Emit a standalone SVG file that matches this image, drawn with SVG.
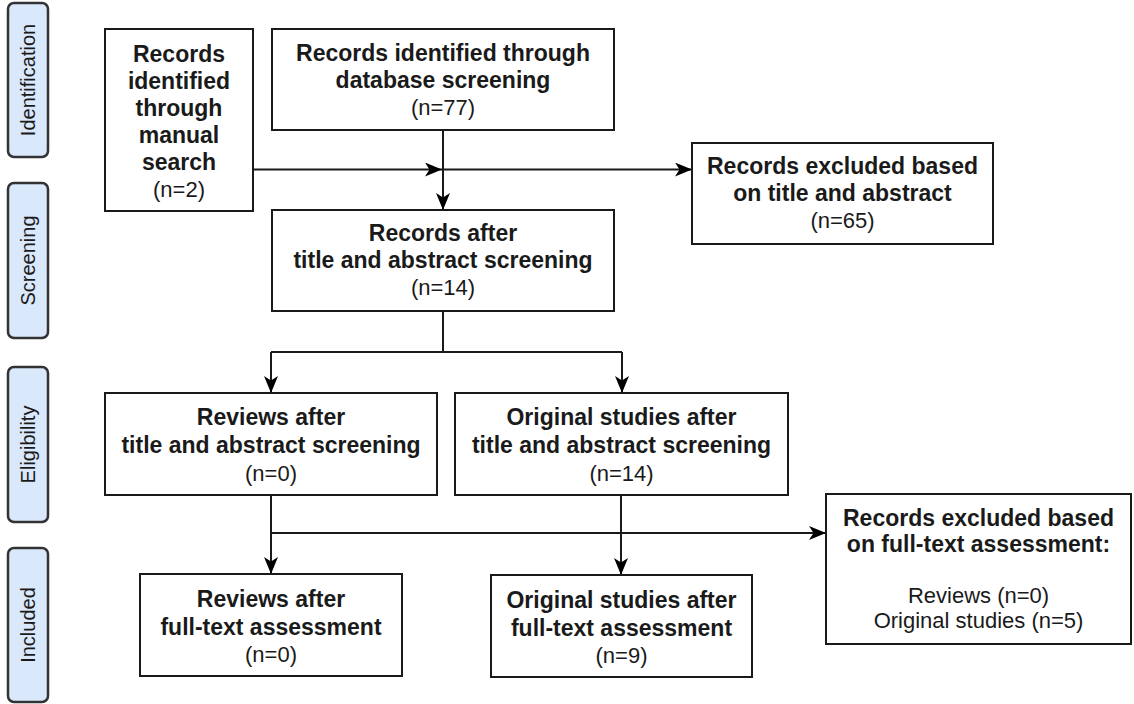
<svg xmlns="http://www.w3.org/2000/svg" width="1134" height="704" viewBox="0 0 1134 704">
<style>
.bar{fill:#dae8fc;stroke:#333;stroke-width:2.5}
.box{fill:#fff;stroke:#1a1a1a;stroke-width:2}
.lbl{font-family:"Liberation Sans",Arial,sans-serif;font-size:20px;fill:#1a1a1a;text-anchor:middle}
.b{font-family:"Liberation Sans",Arial,sans-serif;font-size:23px;font-weight:bold;fill:#1a1a1a;text-anchor:middle}
.r{font-family:"Liberation Sans",Arial,sans-serif;font-size:22px;fill:#1a1a1a;text-anchor:middle}
.c{fill:none;stroke:#1a1a1a;stroke-width:2}
</style>
<defs>
<marker id="arr" markerUnits="userSpaceOnUse" markerWidth="18" markerHeight="14" refX="17" refY="7" orient="auto">
<path d="M0,0 L17,7 L0,14 L4.5,7 Z" fill="#000"/>
</marker>
</defs>
<rect width="1134" height="704" fill="#fff"/>
<g id="phases">
<g id="phase-identification"><rect class="bar" x="8" y="3" width="40" height="154" rx="6"/><text class="lbl" transform="translate(28,80) rotate(-90)" y="7">Identification</text></g>
<g id="phase-screening"><rect class="bar" x="8" y="183" width="40" height="155" rx="6"/><text class="lbl" transform="translate(28,260.5) rotate(-90)" y="7">Screening</text></g>
<g id="phase-eligibility"><rect class="bar" x="8" y="367" width="40" height="155" rx="6"/><text class="lbl" transform="translate(28,444.5) rotate(-90)" y="7">Eligibility</text></g>
<g id="phase-included"><rect class="bar" x="8" y="548" width="40" height="154" rx="6"/><text class="lbl" transform="translate(28,625) rotate(-90)" y="7">Included</text></g>
</g>
<g id="connectors">
<path class="c" d="M253,169.5 H442" marker-end="url(#arr)"/>
<path class="c" d="M442,169.5 H692" marker-end="url(#arr)"/>
<path class="c" d="M443,130 V210" marker-end="url(#arr)"/>
<path class="c" d="M443,311 V352"/>
<path class="c" d="M271,352 H622"/>
<path class="c" d="M271,352 V393" marker-end="url(#arr)"/>
<path class="c" d="M622,352 V393" marker-end="url(#arr)"/>
<path class="c" d="M271,495 V574" marker-end="url(#arr)"/>
<path class="c" d="M271,533 H826" marker-end="url(#arr)"/>
<path class="c" d="M621,495 V575" marker-end="url(#arr)"/>
</g>
<g id="manual">
<rect class="box" x="105" y="29" width="148" height="182"/>
<text class="b" x="179" y="62">Records</text>
<text class="b" x="179" y="89">identified</text>
<text class="b" x="179" y="116">through</text>
<text class="b" x="179" y="143">manual</text>
<text class="b" x="179" y="170">search</text>
<text class="r" x="179" y="197">(n=2)</text>
</g>
<g id="database">
<rect class="box" x="272" y="29" width="342" height="101"/>
<text class="b" x="443" y="61">Records identified through</text>
<text class="b" x="443" y="88">database screening</text>
<text class="r" x="443" y="115">(n=77)</text>
</g>
<g id="after-screening">
<rect class="box" x="272" y="210" width="342" height="101"/>
<text class="b" x="443" y="241">Records after</text>
<text class="b" x="443" y="268">title and abstract screening</text>
<text class="r" x="443" y="295">(n=14)</text>
</g>
<g id="excluded-title">
<rect class="box" x="692" y="143" width="301" height="101"/>
<text class="b" x="842.5" y="174">Records excluded based</text>
<text class="b" x="842.5" y="201">on title and abstract</text>
<text class="r" x="842.5" y="228">(n=65)</text>
</g>
<g id="reviews-eligibility">
<rect class="box" x="105" y="393" width="332" height="102"/>
<text class="b" x="271" y="425">Reviews after</text>
<text class="b" x="271" y="453">title and abstract screening</text>
<text class="r" x="271" y="481">(n=0)</text>
</g>
<g id="original-eligibility">
<rect class="box" x="455" y="393" width="333" height="102"/>
<text class="b" x="621.5" y="425">Original studies after</text>
<text class="b" x="621.5" y="453">title and abstract screening</text>
<text class="r" x="621.5" y="481">(n=14)</text>
</g>
<g id="excluded-fulltext">
<rect class="box" x="826" y="494" width="305" height="150"/>
<text class="b" x="978.5" y="526">Records excluded based</text>
<text class="b" x="978.5" y="552">on full-text assessment:</text>
<text class="r" x="978.5" y="603">Reviews (n=0)</text>
<text class="r" x="978.5" y="628">Original studies (n=5)</text>
</g>
<g id="reviews-included">
<rect class="box" x="140" y="574" width="262" height="102"/>
<text class="b" x="271" y="607">Reviews after</text>
<text class="b" x="271" y="635">full-text assessment</text>
<text class="r" x="271" y="662">(n=0)</text>
</g>
<g id="original-included">
<rect class="box" x="491" y="575" width="261" height="102"/>
<text class="b" x="621.5" y="608">Original studies after</text>
<text class="b" x="621.5" y="636">full-text assessment</text>
<text class="r" x="621.5" y="663">(n=9)</text>
</g>
</svg>
